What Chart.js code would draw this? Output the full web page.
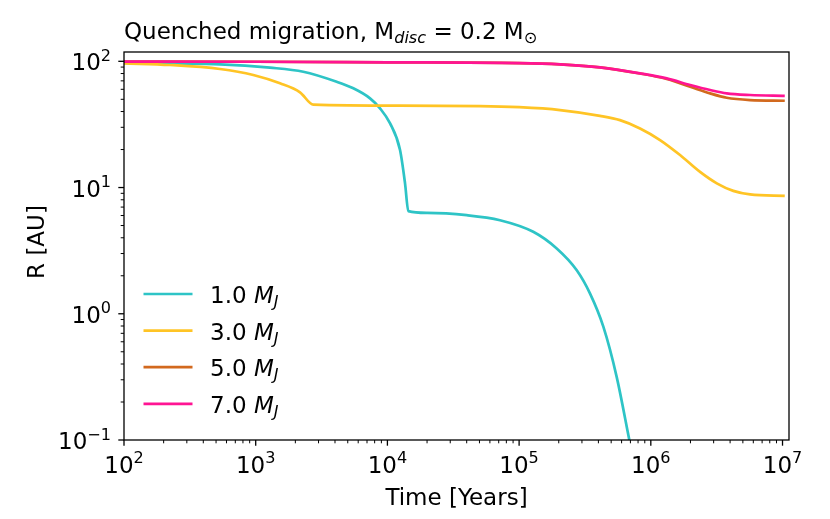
<!DOCTYPE html>
<html><head><meta charset="utf-8">
<script src="https://cdn.jsdelivr.net/npm/chart.js@4.4.1/dist/chart.umd.min.js"></script>
<style>html,body{margin:0;padding:0;background:#fff;} #wrap{width:830px;height:519px;}</style>
</head><body><div id="wrap"><canvas id="c" width="830" height="519"></canvas></div>
<script>
// ---- data ----
const t1 = [100, 223, 536, 1285, 2297, 4120, 5510, 7380, 8790, 10480, 12470, 13610, 14420, 20000, 40000, 71600, 128000, 193000, 274000, 345000, 436000, 551000, 687000];
const r1 = [97.0, 96.0, 94.7, 89.0, 82.7, 68.9, 61.1, 50.9, 42.4, 32.2, 19.8, 10.8, 6.5, 6.3, 6.04, 5.51, 4.46, 3.29, 2.21, 1.45, 0.79, 0.315, 0.1];

const t3 = [100, 223, 536, 959, 1529, 2170, 2740, 12470, 50470, 100000, 204600, 411000, 583000, 828000, 1175000, 1667000, 2365000, 3170000, 4230000, 5670000, 10400000];
const r3 = [96.4, 93.5, 86.9, 77.9, 66.9, 56.8, 45.3, 44.5, 44.2, 43.3, 41.1, 37.0, 34.2, 29.4, 23.8, 18.1, 13.3, 10.8, 9.41, 8.82, 8.6];

const t5 = [100, 1000, 10000, 100000, 204600, 411000, 828000, 1320000, 1990000, 2820000, 3770000, 5670000, 10400000];
const r5 = [99.5, 99.2, 98.2, 96.9, 94.7, 89.6, 80.0, 72.4, 62.9, 55.7, 51.4, 49.3, 48.7];

const t7 = [100, 1000, 10000, 100000, 204600, 411000, 828000, 1320000, 1990000, 2820000, 3770000, 5670000, 10400000];
const r7 = [99.5, 99.2, 98.2, 96.9, 94.7, 89.6, 80.3, 73.3, 64.9, 59.2, 55.7, 54.1, 53.3];

const massLabels = ['1.0', '3.0', '5.0', '7.0'];
const colors = ['#2EC4C6', '#FFC425', '#D2691E', '#FF1493'];
const xTickExps = [2, 3, 4, 5, 6, 7];
const yTickExps = [-1, 0, 1, 2];
const xRange = [100, 1.12e7];
const yRange = [0.1, 118.5];
const titleText = ['Quenched migration, M', 'disc', ' = 0.2 M', '\u2299'];
const xTitle = 'Time [Years]';
const yTitle = 'R [AU]';

// ---- build ----
const FONT = '"DejaVu Sans"';
const FS = 23, SFS = 16.1;
const pairs = (t, r) => t.map((v, i) => ({x: v, y: r[i]}));
const series = [[t1, r1], [t3, r3], [t5, r5], [t7, r7]];

function drawPieces(ctx, pieces, x, y) {
  ctx.textAlign = 'left'; ctx.textBaseline = 'alphabetic'; ctx.fillStyle = '#000';
  for (const p of pieces) {
    ctx.font = (p.italic ? 'italic ' : '') + p.size + 'px ' + FONT;
    ctx.fillText(p.text, x, y + (p.dy || 0));
    x += ctx.measureText(p.text).width;
  }
  return x;
}
function piecesWidth(ctx, pieces) {
  let w = 0;
  for (const p of pieces) { ctx.font = (p.italic ? 'italic ' : '') + p.size + 'px ' + FONT; w += ctx.measureText(p.text).width; }
  return w;
}
function powPieces(e) {
  return [{text: '10', size: FS}, {text: (e < 0 ? '\u2212' + (-e) : String(e)), size: SFS, dy: -9.5}];
}

const axesPlugin = {
  id: 'mplAxes',
  afterDatasetsDraw(chart) {
    const ctx = chart.ctx, a = chart.chartArea;
    const xs = chart.scales.x, ys = chart.scales.y;
    ctx.save();
    ctx.strokeStyle = '#000';
    const tick = (horiz, pos, len, w) => {
      ctx.lineWidth = w; ctx.beginPath();
      if (horiz) { ctx.moveTo(pos, a.bottom); ctx.lineTo(pos, a.bottom + len); }
      else { ctx.moveTo(a.left, pos); ctx.lineTo(a.left - len, pos); }
      ctx.stroke();
    };
    for (let e = 2; e <= 7; e++) {
      for (let m = 1; m <= 9; m++) {
        const v = m * Math.pow(10, e);
        if (v < xRange[0] || v > xRange[1]) continue;
        tick(true, xs.getPixelForValue(v), m === 1 ? 5.7 : 3.3, m === 1 ? 1.3 : 1.0);
      }
    }
    for (let e = -1; e <= 2; e++) {
      for (let m = 1; m <= 9; m++) {
        const v = m * Math.pow(10, e);
        if (v < yRange[0] * 0.999 || v > yRange[1]) continue;
        tick(false, ys.getPixelForValue(v), m === 1 ? 5.7 : 3.3, m === 1 ? 1.3 : 1.0);
      }
    }
    ctx.lineWidth = 1.3;
    ctx.strokeRect(a.left, a.top, a.right - a.left, a.bottom - a.top);
    for (const e of xTickExps) {
      const px = xs.getPixelForValue(Math.pow(10, e));
      const pcs = powPieces(e);
      drawPieces(ctx, pcs, px - piecesWidth(ctx, pcs) / 2, a.bottom + 32.5);
    }
    for (const e of yTickExps) {
      const py = ys.getPixelForValue(Math.pow(10, e));
      const pcs = powPieces(e);
      drawPieces(ctx, pcs, a.left - 13 - piecesWidth(ctx, pcs), py + 9);
    }
    ctx.font = FS + 'px ' + FONT; ctx.textAlign = 'center'; ctx.textBaseline = 'alphabetic';
    ctx.fillText(xTitle, (a.left + a.right) / 2, 505);
    ctx.save(); ctx.translate(43.5, (a.top + a.bottom) / 2 - 4); ctx.rotate(-Math.PI / 2);
    ctx.fillText(yTitle, 0, 0); ctx.restore();
    drawPieces(ctx, [
      {text: titleText[0], size: FS}, {text: titleText[1], size: SFS, italic: true, dy: 3.8},
      {text: titleText[2], size: FS}, {text: titleText[3], size: SFS, dy: 3.8}
    ], a.left, 38.7);
    chart.data.datasets.forEach((ds, i) => {
      const ly = 294 + i * 36.6;
      ctx.strokeStyle = ds.borderColor; ctx.lineWidth = 2.7; ctx.lineCap = 'butt';
      ctx.beginPath(); ctx.moveTo(143.5, ly); ctx.lineTo(192.5, ly); ctx.stroke();
      drawPieces(ctx, [{text: massLabels[i] + ' ', size: FS}, {text: 'M', size: FS, italic: true},
                       {text: 'J', size: SFS, italic: true, dy: 4}], 210, ly + 9);
    });
    ctx.restore();
  }
};

new Chart(document.getElementById('c'), {
  type: 'line',
  data: {
    datasets: series.map((s, i) => ({
      label: massLabels[i] + ' M_J',
      data: pairs(s[0], s[1]),
      borderColor: colors[i],
      borderWidth: 2.7,
      pointRadius: 0,
      fill: false,
      cubicInterpolationMode: 'monotone',
      order: 4 - i
    }))
  },
  options: {
    responsive: false,
    animation: false,
    devicePixelRatio: 1,
    layout: {padding: {left: 124, right: 41, top: 52, bottom: 79}},
    plugins: {legend: {display: false}, tooltip: {enabled: false}, title: {display: false}},
    scales: {
      x: {type: 'logarithmic', min: xRange[0], max: xRange[1], display: false},
      y: {type: 'logarithmic', min: yRange[0], max: yRange[1], display: false}
    }
  },
  plugins: [axesPlugin]
});
</script>
</body></html>
